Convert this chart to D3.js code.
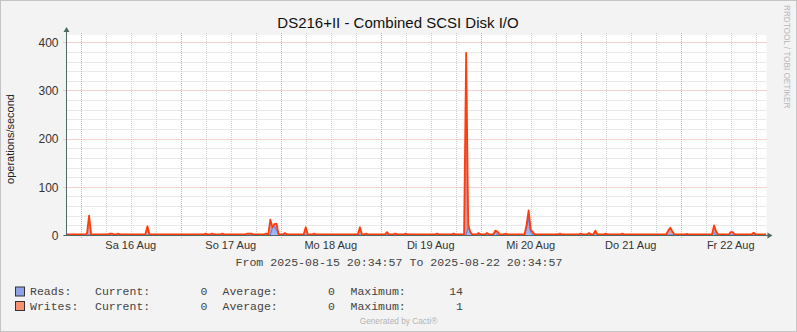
<!DOCTYPE html>
<html>
<head>
<meta charset="utf-8">
<script src="https://cdn.jsdelivr.net/npm/d3@7"></script>
<style>
  html, body { margin: 0; padding: 0; background: #f3f3f3; }
  svg { display: block; }
</style>
</head>
<body>
<svg id="chart"></svg>
<script>
// RRD rows (30 min) that are not zero; every other row reads 0
const writeTimes = [
  "2025-08-16 01:30", "2025-08-16 02:00", "2025-08-16 07:00", "2025-08-16 07:30", "2025-08-16 09:00",
  "2025-08-16 16:00", "2025-08-17 06:00", "2025-08-17 07:30", "2025-08-17 10:00", "2025-08-17 16:00",
  "2025-08-17 16:30", "2025-08-17 17:00", "2025-08-17 20:30", "2025-08-17 21:30", "2025-08-17 22:00",
  "2025-08-17 22:30", "2025-08-17 23:00", "2025-08-18 01:00", "2025-08-18 06:00", "2025-08-18 08:00",
  "2025-08-18 19:00", "2025-08-18 20:30", "2025-08-19 01:30", "2025-08-19 03:30", "2025-08-19 06:00",
  "2025-08-19 13:30", "2025-08-19 17:30", "2025-08-19 20:30", "2025-08-19 21:00", "2025-08-19 21:30",
  "2025-08-19 23:30", "2025-08-20 01:30", "2025-08-20 03:30", "2025-08-20 04:00", "2025-08-20 06:00",
  "2025-08-20 11:00", "2025-08-20 11:30", "2025-08-20 12:00", "2025-08-20 12:30", "2025-08-20 19:00",
  "2025-08-21 00:00", "2025-08-21 02:00", "2025-08-21 03:30", "2025-08-21 06:00", "2025-08-21 10:00",
  "2025-08-21 21:00", "2025-08-21 21:30", "2025-08-21 22:00", "2025-08-22 01:30", "2025-08-22 08:00",
  "2025-08-22 08:30", "2025-08-22 12:00", "2025-08-22 12:30", "2025-08-22 17:30"
];
const writeValues = [
  2, 39, 2, 2, 2,
  17, 2, 2, 2, 2,
  2, 2, 2, 31, 15,
  22, 22, 3, 15, 2,
  15, 2, 5, 2, 2,
  2, 2, 377, 20, 5,
  3, 3, 8, 6, 2,
  20, 50, 10, 5, 2,
  2, 3, 8, 2, 2,
  8, 14, 6, 1, 19,
  6, 5, 5, 4
];
const readTimes = [
  "2025-08-17 22:00", "2025-08-17 22:30", "2025-08-17 23:00", "2025-08-19 21:00", "2025-08-19 21:30",
  "2025-08-20 03:30", "2025-08-20 11:00", "2025-08-20 11:30", "2025-08-20 12:00", "2025-08-21 03:30",
  "2025-08-22 01:30", "2025-08-22 08:00"
];
const readValues = [15, 18, 10, 18, 5, 5, 15, 35, 5, 5, 3, 5];

const yTicks = [0, 100, 200, 300, 400];
const dayNames = ["So", "Mo", "Di", "Mi", "Do", "Fr", "Sa"];
const monthNames = ["Jan", "Feb", "Mär", "Apr", "Mai", "Jun", "Jul", "Aug", "Sep", "Okt", "Nov", "Dez"];

const title = "DS216+II - Combined SCSI Disk I/O";
const yLabel = "operations/second";
const rangeText = "From 2025-08-15 20:34:57 To 2025-08-22 20:34:57";
const legendRows = [
  { name: "Reads:", current: "0", average: "0", maximum: "14", color: "#8fa2e6" },
  { name: "Writes:", current: "0", average: "0", maximum: "1", color: "#f7916f" }
];

const W = 797, H = 332;
const pLeft = 66.5, pRight = 766.5, pTop = 35, pBottom = 235;
const parse = d3.timeParse("%Y-%m-%d %H:%M");
const parseFull = d3.timeParse("%Y-%m-%d %H:%M:%S");
const start = parseFull("2025-08-15 20:34:57");
const end = parseFull("2025-08-22 20:34:57");

const x = d3.scaleTime().domain([start, end]).range([pLeft, pRight]);
const y = d3.scaleLinear().domain([0, 415]).range([pBottom, pTop]);

// 30 min rows across the window
const rows = d3.timeMinute.every(30).range(parse("2025-08-15 20:30"), parse("2025-08-22 21:00"));
const wMap = new Map(writeTimes.map((t, i) => [+parse(t), writeValues[i]]));
const rMap = new Map(readTimes.map((t, i) => [+parse(t), readValues[i]]));
const series = rows.map(t => ({ t, w: wMap.get(+t) || 0, r: rMap.get(+t) || 0 }));

const svg = d3.select("#chart").attr("width", W).attr("height", H);

svg.append("rect").attr("x", 0.5).attr("y", 0.5).attr("width", W - 1).attr("height", H - 1)
  .attr("fill", "#f3f3f3").attr("stroke", "#c4c4c4");

const defs = svg.append("defs");
defs.append("clipPath").attr("id", "plot")
  .append("rect").attr("x", pLeft).attr("y", pTop - 5).attr("width", pRight - pLeft).attr("height", pBottom - pTop + 5);

const gw = defs.append("linearGradient").attr("id", "gw")
  .attr("gradientUnits", "userSpaceOnUse").attr("x1", 0).attr("x2", 0).attr("y1", pTop).attr("y2", pBottom);
gw.append("stop").attr("offset", "0%").attr("stop-color", "#dc4040");
gw.append("stop").attr("offset", "100%").attr("stop-color", "#c8a6b8");

const gr = defs.append("linearGradient").attr("id", "gr")
  .attr("gradientUnits", "userSpaceOnUse").attr("x1", 0).attr("x2", 0).attr("y1", 200).attr("y2", pBottom);
gr.append("stop").attr("offset", "0%").attr("stop-color", "#5b7fe6");
gr.append("stop").attr("offset", "100%").attr("stop-color", "#a8b8f0");

// plot canvas
svg.append("rect").attr("x", pLeft).attr("y", pTop).attr("width", pRight - pLeft).attr("height", pBottom - pTop)
  .attr("fill", "#fff");

// grid
const grid = svg.append("g");
const minorY = d3.range(20, 415, 20).filter(v => v % 100 !== 0);
grid.selectAll(".my").data(minorY).join("line")
  .attr("x1", pLeft).attr("x2", pRight).attr("y1", d => Math.round(y(d)) + 0.5).attr("y2", d => Math.round(y(d)) + 0.5)
  .attr("stroke", "#d4d4d4").attr("stroke-dasharray", "1,1");
const minorX = d3.timeHour.every(6).range(start, end).filter(d => d.getHours() !== 0);
grid.selectAll(".mx").data(minorX).join("line")
  .attr("x1", d => Math.round(x(d)) + 0.5).attr("x2", d => Math.round(x(d)) + 0.5)
  .attr("y1", pTop - 2).attr("y2", pBottom)
  .attr("stroke", "#d0d0d0").attr("stroke-dasharray", "1,1");
grid.selectAll(".My").data(yTicks).join("line")
  .attr("x1", pLeft - 3).attr("x2", pRight).attr("y1", d => Math.round(y(d)) + 0.5).attr("y2", d => Math.round(y(d)) + 0.5)
  .attr("stroke", "#eba5a5").attr("stroke-dasharray", "1,1");
const majorX = d3.timeDay.range(start, end);
grid.selectAll(".Mx").data(majorX).join("line")
  .attr("x1", d => Math.round(x(d)) + 0.5).attr("x2", d => Math.round(x(d)) + 0.5)
  .attr("y1", pTop - 2).attr("y2", pBottom + 3)
  .attr("stroke", "#eba5a5").attr("stroke-dasharray", "1,1");

// data
const plot = svg.append("g").attr("clip-path", "url(#plot)");
const area = key => d3.area().x(d => x(d.t)).y0(y(0)).y1(d => y(d[key]));
const line = key => d3.line().x(d => x(d.t)).y(d => y(d[key]));

plot.append("path").datum(series).attr("d", area("w")).attr("fill", "url(#gw)");
plot.append("path").datum(series).attr("d", area("r")).attr("fill", "url(#gr)");
plot.append("path").datum(series).attr("d", line("r"))
  .attr("fill", "none").attr("stroke", "#5b7be8").attr("stroke-width", 1);
plot.append("path").datum(series).attr("d", line("w"))
  .attr("transform", "translate(0,-0.5)")
  .attr("fill", "none").attr("stroke", "#ff3c0a").attr("stroke-width", 1.8).attr("stroke-linejoin", "round");

// axes
const axisColor = "#4e6a66";
svg.append("line").attr("x1", pLeft).attr("x2", pLeft).attr("y1", pTop - 5).attr("y2", pBottom + 1)
  .attr("stroke", axisColor).attr("stroke-width", 1);
svg.append("line").attr("x1", pLeft - 3).attr("x2", pRight + 2).attr("y1", pBottom + 0.5).attr("y2", pBottom + 0.5)
  .attr("stroke", axisColor).attr("stroke-width", 1);
svg.append("path").attr("d", `M${pLeft - 3},${pTop - 3}L${pLeft + 3},${pTop - 3}L${pLeft},${pTop - 8}Z`).attr("fill", axisColor);
svg.append("path").attr("d", `M${pRight + 1},${pBottom - 2.5}L${pRight + 1},${pBottom + 3.5}L${pRight + 6},${pBottom + 0.5}Z`).attr("fill", axisColor);

// y tick labels
svg.append("g").attr("transform", `translate(${pLeft - 8},0)`)
  .call(d3.axisLeft(y).tickValues(yTicks).tickSize(0).tickPadding(0))
  .call(g => g.select(".domain").remove())
  .call(g => g.selectAll("text").attr("font-family", "Liberation Sans, Arial, sans-serif")
    .attr("font-size", 12).attr("fill", "#333").attr("dy", "0.35em"));

// x labels at noon
const noons = majorX.map(d => d3.timeHour.offset(d, 12)).filter(d => d < end);
svg.append("g").selectAll("text").data(noons).join("text")
  .attr("x", d => x(d)).attr("y", 249)
  .attr("text-anchor", "middle")
  .attr("font-family", "Liberation Sans, Arial, sans-serif").attr("font-size", 11).attr("fill", "#333")
  .text(d => `${dayNames[d.getDay()]} ${d.getDate()} ${monthNames[d.getMonth()]}`);

// title and labels
svg.append("text").attr("x", 398).attr("y", 28).attr("text-anchor", "middle")
  .attr("font-family", "Liberation Sans, Arial, sans-serif").attr("font-size", 15).attr("fill", "#111")
  .text(title);

svg.append("text").attr("transform", "translate(14,139) rotate(-90)").attr("text-anchor", "middle")
  .attr("font-family", "Liberation Sans, Arial, sans-serif").attr("font-size", 11).attr("fill", "#222")
  .text(yLabel);

svg.append("text").attr("transform", "translate(784,5) rotate(90)")
  .attr("font-family", "Liberation Sans, Arial, sans-serif").attr("font-size", 8.2).attr("fill", "#b8b8b8")
  .text("RRDTOOL / TOBI OETIKER");

const mono = "Liberation Mono, DejaVu Sans Mono, monospace";
svg.append("text").attr("x", 399).attr("y", 266).attr("text-anchor", "middle")
  .attr("font-family", mono).attr("font-size", 11.6).attr("fill", "#444")
  .text(rangeText);

// legend
const leg = svg.append("g").selectAll("g").data(legendRows).join("g")
  .attr("transform", (d, i) => `translate(0,${291.5 + i * 14.5})`);
leg.append("rect").attr("x", 15.5).attr("y", -4.5).attr("width", 9).attr("height", 9)
  .attr("fill", d => d.color).attr("stroke", "#333").attr("stroke-width", 1);
const cell = (xp, anchor, f) => leg.append("text").attr("x", xp).attr("y", 3.8)
  .attr("text-anchor", anchor).attr("font-family", mono).attr("font-size", 11.5).attr("fill", "#444").text(f);
cell(30, "start", d => d.name);
cell(95, "start", () => "Current:");
cell(207.5, "end", d => d.current);
cell(222.5, "start", () => "Average:");
cell(335, "end", d => d.average);
cell(350.5, "start", () => "Maximum:");
cell(463, "end", d => d.maximum);

svg.append("text").attr("x", 398.5).attr("y", 324).attr("text-anchor", "middle")
  .attr("font-family", "Liberation Sans, Arial, sans-serif").attr("font-size", 8.3).attr("fill", "#b4b4b4")
  .text("Generated by Cacti®");
</script>
</body>
</html>
